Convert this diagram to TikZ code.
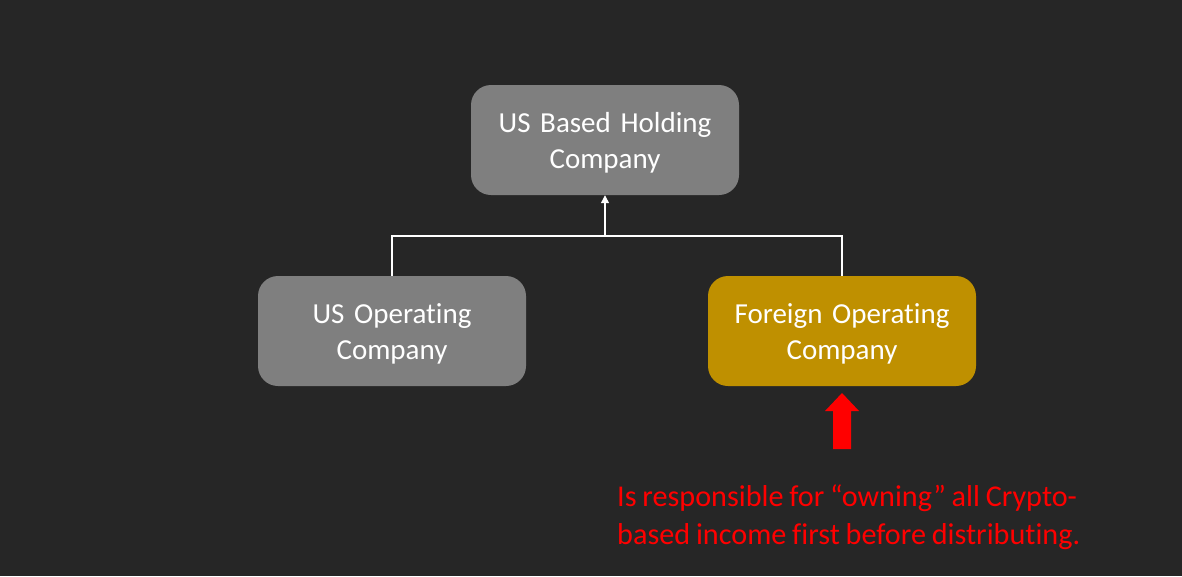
\documentclass[tikz,border=0pt]{standalone}
\usepackage{fontspec}
\setmainfont{Carlito}[Ligatures=NoCommon, WordSpace=0.85]
\usetikzlibrary{arrows.meta}
\definecolor{bg}{HTML}{262626}
\definecolor{boxgrey}{HTML}{7F7F7F}
\definecolor{gold}{HTML}{BF9000}
\newcommand{\tallstrut}{\rule{0pt}{31.2pt}}
\begin{document}
\begin{tikzpicture}[x=1pt,y=-1pt,
    box/.style={rounded corners=20pt, minimum width=268pt, minimum height=110pt,
      text width=250pt, align=center, inner sep=0pt, text=white,
      font=\fontsize{29}{36}\selectfont},
    link/.style={draw=white, line width=1.2pt}]
    \fill[bg] (0,0) rectangle (1182,576);

    \node (hold) [box, fill=boxgrey] at (605,140) {\tallstrut US Based Holding\\Company\strut};
    \node (usop) [box, fill=boxgrey] at (392,331) {\tallstrut US Operating\\Company\strut};
    \node (fop) [box, fill=gold] at (842,331) {\tallstrut Foreign Operating\\Company\strut};
    \coordinate (join) at (605,236);

    \draw[link] (usop.north) |- (join) -| (fop.north);
    \draw[link, -{Triangle[width=8pt,length=8pt]}] (join) -- (hold.south);

    \fill[red] (833,449) -- (833,411) -- (825,411) -- (842,393)
               -- (859,411) -- (851,411) -- (851,449) -- cycle;
    \node (note) [anchor=west, align=left, inner sep=0pt, text=red,
      font=\fontsize{30.2}{38}\selectfont] at (617,517)
      {Is responsible for “owning” all Crypto-\\based income first before distributing.};
\end{tikzpicture}
\end{document}
